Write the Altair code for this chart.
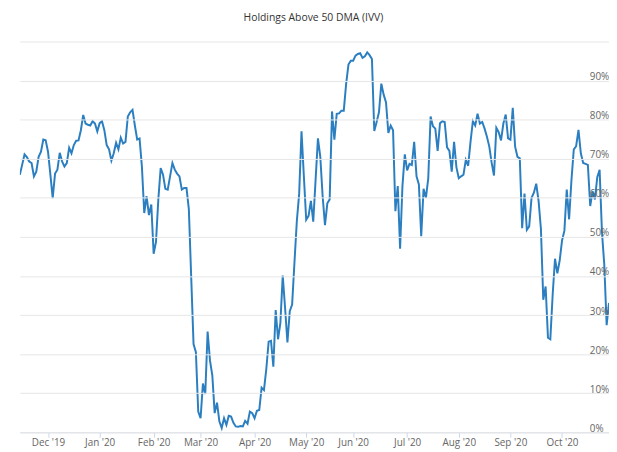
import altair as alt
import pandas as pd

# share of holdings above their 50-day moving average, one value per trading day
pct_above = [
    65.9, 68.5, 71.1, 70.4, 69.3, 68.9, 65.5, 66.7, 70.5, 71.8,
    74.9, 74.7, 71.8, 66.0, 59.9, 66.2, 67.2, 71.5, 69.3, 68.0,
    68.9, 72.8, 71.4, 73.5, 74.6, 74.7, 77.3, 81.2, 79.0, 78.7,
    78.5, 79.6, 79.0, 77.0, 79.1, 79.6, 77.3, 73.5, 72.4, 69.5,
    71.4, 74.1, 72.4, 75.4, 73.9, 74.3, 80.8, 81.9, 82.5, 78.5,
    74.9, 75.2, 68.0, 56.1, 60.4, 55.6, 58.3, 45.7, 48.7, 59.6,
    67.6, 65.9, 62.3, 62.1, 65.5, 68.9, 67.2, 66.2, 65.5, 62.1,
    62.5, 62.5, 57.1, 39.8, 22.6, 20.5, 5.3, 3.6, 12.5, 9.8,
    25.8, 18.4, 14.6, 4.9, 7.6, 2.8, 1.1, 3.6, 1.9, 4.2,
    4.0, 2.4, 1.5, 1.4, 1.6, 1.5, 2.9, 2.2, 5.3, 4.9,
    3.6, 5.5, 5.7, 11.4, 10.8, 16.2, 23.2, 23.4, 16.8, 31.3,
    23.8, 28.0, 40.1, 31.8, 23.0, 31.0, 32.7, 43.5, 54.0, 61.0,
    77.0, 65.5, 54.4, 55.4, 59.2, 53.9, 64.6, 75.2, 70.5, 60.4,
    53.0, 58.6, 59.6, 82.1, 74.9, 81.5, 81.6, 82.3, 82.3, 89.1,
    94.1, 95.1, 95.1, 96.4, 96.8, 97.0, 95.8, 96.2, 97.2, 96.5,
    95.5, 77.1, 79.4, 81.9, 89.2, 86.4, 84.4, 76.6, 78.5, 77.3,
    56.6, 63.0, 47.0, 63.0, 71.1, 67.0, 68.7, 68.4, 74.3, 65.5,
    63.4, 50.2, 62.3, 60.0, 65.0, 80.8, 78.3, 77.7, 72.0, 79.1,
    79.6, 79.4, 72.9, 72.0, 66.7, 74.3, 67.8, 65.0, 65.5, 65.9,
    69.7, 68.2, 74.3, 79.6, 78.5, 81.5, 79.0, 79.4, 77.7, 75.6,
    73.1, 69.0, 65.7, 77.9, 76.8, 74.7, 79.0, 81.3, 75.2, 74.9,
    83.0, 73.1, 70.5, 70.1, 52.2, 61.1, 51.8, 52.7, 60.0, 61.3,
    63.6, 59.2, 52.0, 33.9, 37.3, 24.2, 23.8, 35.2, 44.4, 40.7,
    44.0, 49.1, 51.6, 62.1, 54.5, 64.5, 72.4, 73.2, 77.4, 71.4,
    68.9, 68.7, 68.4, 57.9, 61.7, 59.6, 65.3, 67.2, 51.2, 42.8,
    27.4, 33.1,
]

# first trading day of each month (position in the series) and its label
month_index = [12, 34, 57, 77, 100, 122, 142, 165, 187, 209, 231]
month_labels = ["Dec '19", "Jan '20", "Feb '20", "Mar '20", "Apr '20", "May '20",
                "Jun '20", "Jul '20", "Aug '20", "Sep '20", "Oct '20"]

y_ticks = [0, 10, 20, 30, 40, 50, 60, 70, 80, 90, 100]

df = pd.DataFrame({"day": list(range(len(pct_above))), "pct": pct_above})

x_label_expr = (
    "[" + ",".join('"%s"' % s for s in month_labels) + "]"
    + "[indexof([" + ",".join(str(v) for v in month_index) + "], datum.value)]"
)

FONT = "Open Sans"

chart = (
    alt.Chart(df)
    .mark_line(color="#2b7fc0", strokeWidth=2, clip=True)
    .encode(
        x=alt.X(
            "day:Q",
            scale=alt.Scale(domain=[0, len(pct_above) - 1], nice=False, zero=False),
            axis=alt.Axis(
                values=month_index,
                labelExpr=x_label_expr,
                title=None,
                grid=False,
                domainColor="#ccd6eb",
                tickColor="#ccd6eb",
                tickSize=5,
                labelPadding=0,
                labelColor="#666666",
                labelFontSize=10,
                labelFont=FONT,
                labelFlush=False,
                labelOverlap=False,
            ),
        ),
        y=alt.Y(
            "pct:Q",
            scale=alt.Scale(domain=[0, 100], nice=False),
            axis=alt.Axis(
                orient="right",
                values=y_ticks,
                labelExpr="datum.value == 100 ? '' : datum.value + '%'",
                title=None,
                grid=True,
                gridColor="#e6e6e6",
                domain=False,
                ticks=False,
                tickSize=0,
                labelPadding=-20,
                labelAlign="left",
                labelBaseline="alphabetic",
                labelOffset=-1,
                labelColor="#666666",
                labelFontSize=10,
                labelFont=FONT,
                labelOverlap=False,
                zindex=1,
            ),
        ),
    )
    .properties(
        width=597,
        height=396,
        title=alt.TitleParams(
            "Holdings Above 50 DMA (IVV)",
            fontSize=10.5,
            color="#333333",
            fontWeight="normal",
            font=FONT,
            baseline="alphabetic",
            offset=1.5,
            dx=-1,
        ),
        padding={"left": 12, "top": 2, "right": 0, "bottom": 0},
    )
    .configure_view(stroke=None)
)

chart.save("out.html", embed_options={"renderer": "svg", "actions": False})
